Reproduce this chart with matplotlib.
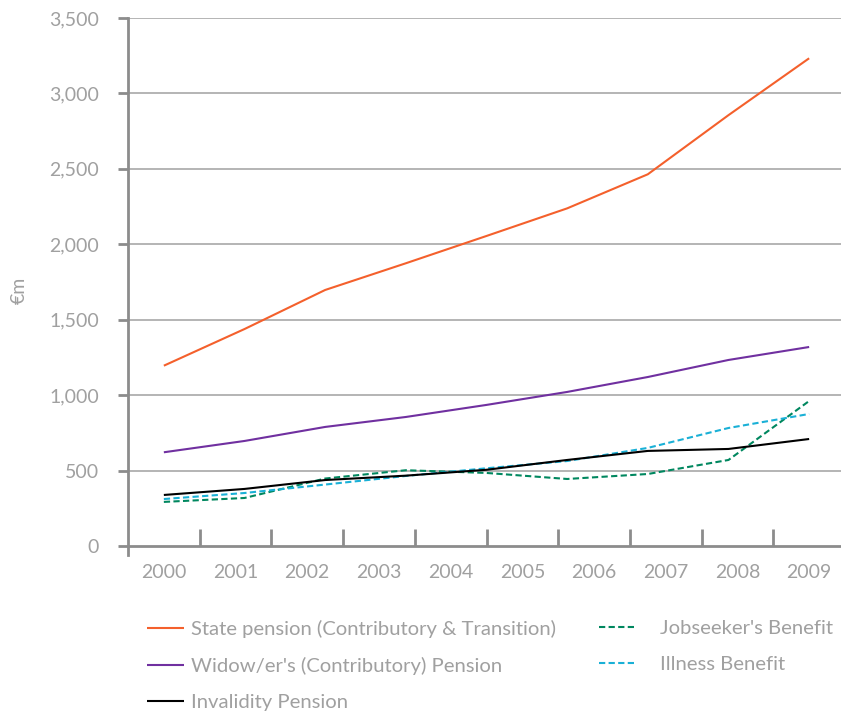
import numpy as np
import matplotlib
matplotlib.use("Agg")
import matplotlib.pyplot as plt

years = ["2000", "2001", "2002", "2003", "2004", "2005", "2006", "2007", "2008", "2009"]
state_pension = [1195, 1438, 1697, 1874, 2055, 2238, 2464, 2856, 3233]
widow_pension = [621, 696, 789, 855, 935, 1021, 1120, 1233, 1319]
invalidity_pension = [338, 378, 437, 466, 505, 570, 630, 643, 709]
jobseeker_benefit = [292, 318, 447, 502, 484, 444, 477, 570, 961]
illness_benefit = [311, 351, 407, 464, 515, 563, 650, 782, 875]
yticks = [0, 500, 1000, 1500, 2000, 2500, 3000, 3500]
ytick_labels = ["0", "500", "1,000", "1,500", "2,000", "2,500", "3,000", "3,500"]

series_names = ["State pension (Contributory & Transition)",
                "Widow/er's (Contributory) Pension",
                "Invalidity Pension",
                "Jobseeker's Benefit",
                "Illness Benefit"]

plt.rcParams['font.family'] = ['Lato', 'DejaVu Sans']
TXT = '#a0a0a0'
GRID = '#a8a8a8'
SPINE = '#8c8c8c'

fig = plt.figure(figsize=(8.41, 7.11), dpi=100)
ax = fig.add_axes([128/841, (711-555)/711, 717/841, (555-18)/711])

n_years = len(years)
ax.set_xlim(-0.5, n_years - 0.5)
ax.set_ylim(-60, 3500)

# series span from the first to the last category centre
npts = len(state_pension)
xs = np.linspace(0, n_years - 1, npts)

styles = [
    dict(color='#F4602C', lw=1.5, ls='-'),
    dict(color='#7030A0', lw=1.5, ls='-'),
    dict(color='#000000', lw=1.5, ls='-'),
    dict(color='#00875F', lw=1.5, ls=(0, (3, 1.6))),
    dict(color='#1AB0D6', lw=1.5, ls=(0, (3, 1.6))),
]
data = [state_pension, widow_pension, invalidity_pension, jobseeker_benefit, illness_benefit]
zorders = [5, 5, 4, 3, 3]
handles = []
for vals, st, name, z in zip(data, styles, series_names, zorders):
    h, = ax.plot(xs, vals, label=name, zorder=z, solid_capstyle='butt', **st)
    handles.append(h)

for yv in yticks[1:]:
    ax.axhline(yv, color=GRID, lw=1.2, zorder=1)

for s in ['top', 'right']:
    ax.spines[s].set_visible(False)
ax.spines['bottom'].set_position(('data', 0))
ax.spines['bottom'].set_color(SPINE)
ax.spines['bottom'].set_linewidth(2)
ax.spines['left'].set_color(SPINE)
ax.spines['left'].set_linewidth(2)
ax.spines['left'].set_bounds(-60, 3500)

ax.set_yticks(yticks)
ax.set_yticklabels(ytick_labels)
ax.tick_params(axis='y', direction='out', length=7, width=2, color=SPINE,
               labelcolor=TXT, labelsize=14, pad=14)

ax.set_xticks(range(n_years))
ax.set_xticklabels(years)
ax.set_xticks(np.arange(0.5, n_years - 1, 1), minor=True)
ax.tick_params(axis='x', which='major', length=0, labelcolor=TXT, labelsize=14, pad=13)
ax.tick_params(axis='x', which='minor', direction='in', length=12, width=2, color=SPINE)

fig.text(19/841, 1 - 290/711, "€m", rotation=90, color=TXT, fontsize=14,
         ha='center', va='center')

leg1 = fig.legend(handles[:3], series_names[:3], loc='upper left',
                  bbox_to_anchor=(147/841, 1 - 620/711), frameon=False,
                  fontsize=14.6, labelcolor=TXT, handlelength=1.8, handletextpad=0.35,
                  labelspacing=0.93, borderpad=0, borderaxespad=0)
leg2 = fig.legend(handles[3:], series_names[3:], loc='upper left',
                  bbox_to_anchor=(599/841, 1 - 620/711), frameon=False,
                  fontsize=14.6, labelcolor=TXT, handlelength=1.8, handletextpad=1.2,
                  labelspacing=0.93, borderpad=0, borderaxespad=0)

fig.savefig("out.png", dpi=100)
